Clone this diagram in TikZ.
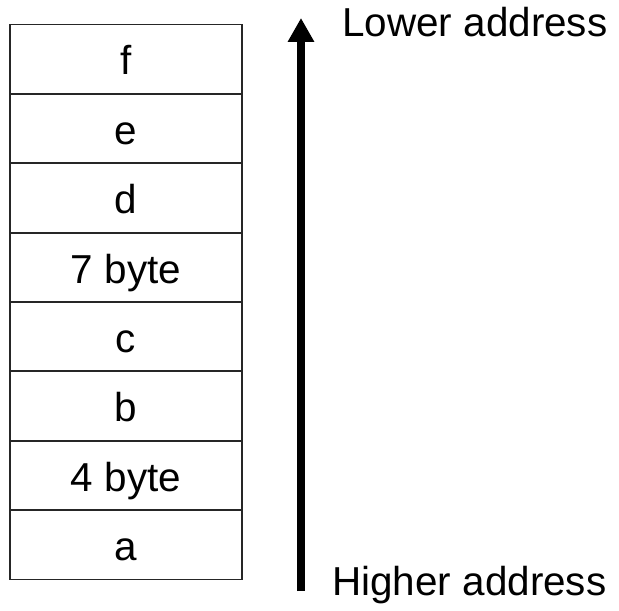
\documentclass[tikz,border=0pt]{standalone}
\usepackage{fontspec}
\setmainfont{Liberation Sans}
\usetikzlibrary{arrows.meta,positioning}

\begin{document}
\begin{tikzpicture}[scale=0.2]
\tikzstyle{every node}+=[inner sep=0pt, font=\fontsize{23}{27}\selectfont]
\useasboundingbox (0,0) rectangle (61.9,-61);
\draw [black!85, line width=1.1pt] (1,-2.45) rectangle (24.2,-9.39);
\draw (12.6,-7.49) node [anchor=base] (f) {f};
\draw [black!85, line width=1.1pt] (1,-9.39) rectangle (24.2,-16.33);
\draw (12.6,-14.43) node [anchor=base] (e) {e};
\draw [black!85, line width=1.1pt] (1,-16.33) rectangle (24.2,-23.26);
\draw (12.6,-21.36) node [anchor=base] (d) {d};
\draw [black!85, line width=1.1pt] (1,-23.26) rectangle (24.2,-30.2);
\draw (12.6,-28.3) node [anchor=base] (seven) {7 byte};
\draw [black!85, line width=1.1pt] (1,-30.2) rectangle (24.2,-37.14);
\draw (12.6,-35.24) node [anchor=base] (c) {c};
\draw [black!85, line width=1.1pt] (1,-37.14) rectangle (24.2,-44.08);
\draw (12.6,-42.18) node [anchor=base] (b) {b};
\draw [black!85, line width=1.1pt] (1,-44.08) rectangle (24.2,-51.01);
\draw (12.6,-49.11) node [anchor=base] (four) {4 byte};
\draw [black!85, line width=1.1pt] (1,-51.01) rectangle (24.2,-57.95);
\draw (12.6,-56.05) node [anchor=base] (a) {a};
\coordinate (high) at (30.1,-59.1);
\coordinate (low) at (30.1,-1.8);
\draw [black, line width=4pt, -{Triangle[length=13.6pt,width=14.2pt]}] (high) -- (low);
\draw (34.2,-3.7) node [anchor=base west] (lower) {Lower address};
\draw (33.2,-59.5) node [anchor=base west] (higher) {Higher address};
\end{tikzpicture}
\end{document}
